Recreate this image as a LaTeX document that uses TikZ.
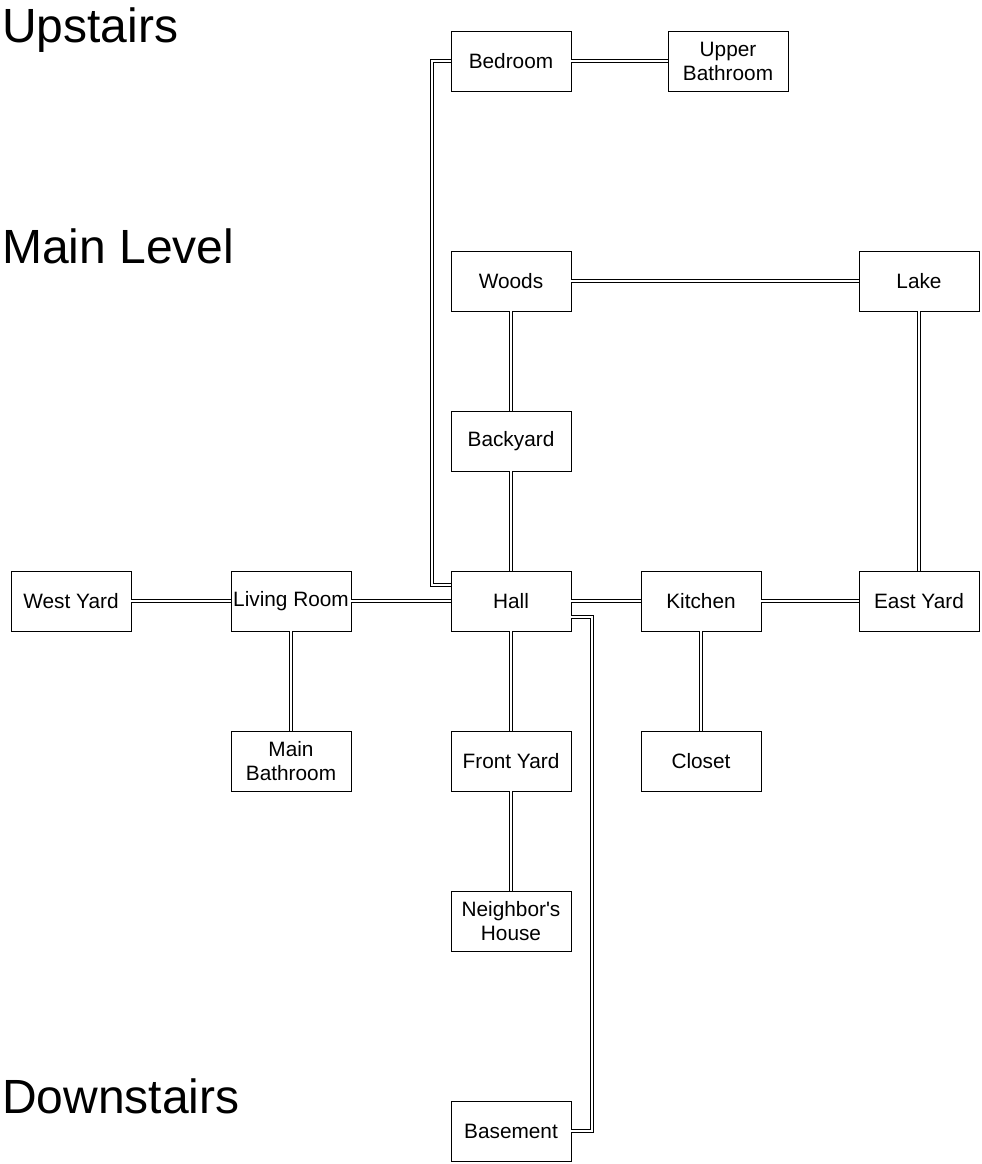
\documentclass[tikz,border=0pt]{standalone}
\usepackage{fontspec}
\setmainfont{Liberation Sans}
\begin{document}
\begin{tikzpicture}[x=1pt,y=-1pt,
  room/.style={draw=black,line width=0.9pt,minimum width=120pt,minimum height=60pt,inner sep=0pt,align=center,font=\fontsize{20.8}{24}\selectfont},
  level/.style={anchor=base west,inner sep=0pt,font=\fontsize{48}{52}\selectfont},
  link/.style={draw=black,line width=0.8pt,double=white,double distance=2.2pt}]
\useasboundingbox (0,0) rectangle (982,1164);
\node[level] (up) at (2,43) {Upstairs};
\node[level] (main) at (2,263) {Main Level};
\node[level] (down) at (2,1113) {Downstairs};

\node[room] (bed) at (511,61) {Bedroom};
\node[room] (ubath) at (728,61) {Upper\\Bathroom};
\node[room] (woods) at (511,281) {Woods};
\node[room] (lake) at (919,281) {Lake};
\node[room] (back) at (511,441) {Backyard};
\node[room] (west) at (71,601) {West Yard};
\node[room] (living) at (291,601) {Living Room};
\node[room] (hall) at (511,601) {Hall};
\node[room] (kitchen) at (701,601) {Kitchen};
\node[room] (east) at (919,601) {East Yard};
\node[room] (mbath) at (291,761) {Main\\Bathroom};
\node[room] (front) at (511,761) {Front Yard};
\node[room] (closet) at (701,761) {Closet};
\node[room] (neigh) at (511,921) {Neighbor\textquotesingle s\\House};
\node[room] (base) at (511,1131) {Basement};

\coordinate (c1) at (432,61);
\coordinate (c2) at (432,585);
\coordinate (c3) at (592,617);
\coordinate (c4) at (592,1131);

\draw[link] (bed) -- (ubath);
\draw[link] (bed.west) -- (c1) -- (c2) -- (hall.west |- c2);
\draw[link] (woods) -- (lake);
\draw[link] (woods) -- (back);
\draw[link] (back) -- (hall);
\draw[link] (lake) -- (east);
\draw[link] (west) -- (living);
\draw[link] (living) -- (hall);
\draw[link] (hall) -- (kitchen);
\draw[link] (kitchen) -- (east);
\draw[link] (living) -- (mbath);
\draw[link] (hall) -- (front);
\draw[link] (kitchen) -- (closet);
\draw[link] (front) -- (neigh);
\draw[link] (hall.east |- c3) -- (c3) -- (c4) -- (base.east);
\end{tikzpicture}
\end{document}
